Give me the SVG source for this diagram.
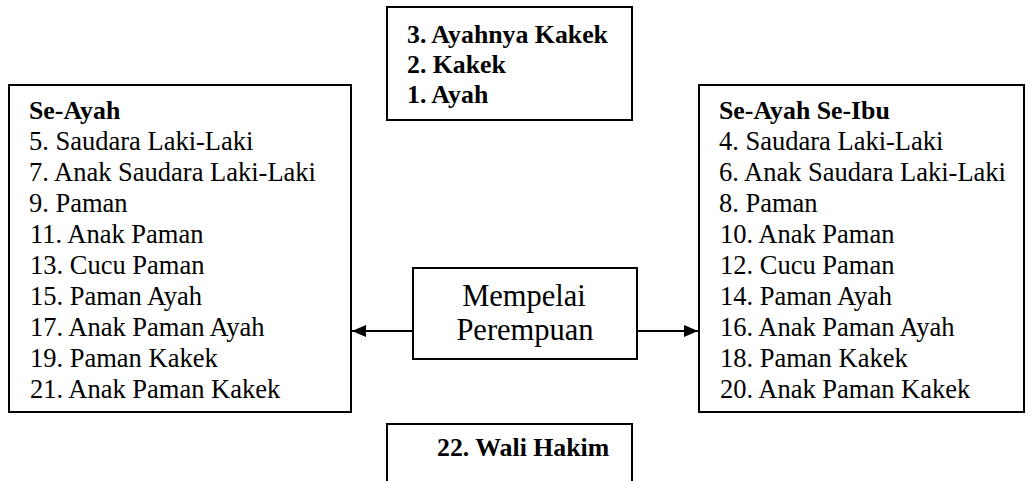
<svg xmlns="http://www.w3.org/2000/svg" width="1033" height="481" viewBox="0 0 1033 481">
<defs>
<style>
.box{fill:#fff;stroke:#000;stroke-width:2}
text{font-family:"Liberation Serif","Times New Roman",serif;fill:#000}
.t{font-size:26.5px}
.b{font-weight:bold;font-size:25.8px}
.c{font-size:30.5px;text-anchor:middle}
.ln{stroke:#000;stroke-width:2;fill:none}
</style>
<marker id="ah" viewBox="0 0 14 12" refX="14" refY="6" markerWidth="14" markerHeight="12" orient="auto" markerUnits="userSpaceOnUse">
<path d="M0,0 L14,6 L0,12 z" fill="#000"/>
</marker>
</defs>
<g id="connectors">
<line class="ln" x1="413" y1="331" x2="352" y2="331" marker-end="url(#ah)"/>
<line class="ln" x1="637" y1="331" x2="698" y2="331" marker-end="url(#ah)"/>
</g>
<g id="top">
<rect class="box" x="387" y="7" width="245" height="113"/>
<text class="b" x="407" y="43">3. Ayahnya Kakek</text>
<text class="b" x="407" y="73">2. Kakek</text>
<text class="b" x="407" y="103">1. Ayah</text>
</g>
<g id="left">
<rect class="box" x="9" y="85" width="342" height="327"/>
<text class="b" x="29" y="119">Se-Ayah</text>
<text class="t" x="29" y="150">5. Saudara Laki-Laki</text>
<text class="t" x="29" y="181">7. Anak Saudara Laki-Laki</text>
<text class="t" x="29" y="212">9. Paman</text>
<text class="t" x="30" y="243">11. Anak Paman</text>
<text class="t" x="30" y="274">13. Cucu Paman</text>
<text class="t" x="30" y="305">15. Paman Ayah</text>
<text class="t" x="30" y="336">17. Anak Paman Ayah</text>
<text class="t" x="30" y="367">19. Paman Kakek</text>
<text class="t" x="30" y="398">21. Anak Paman Kakek</text>
</g>
<g id="right">
<rect class="box" x="699" y="85" width="325" height="327"/>
<text class="b" x="719" y="119">Se-Ayah Se-Ibu</text>
<text class="t" x="719" y="150">4. Saudara Laki-Laki</text>
<text class="t" x="719" y="181">6. Anak Saudara Laki-Laki</text>
<text class="t" x="719" y="212">8. Paman</text>
<text class="t" x="720" y="243">10. Anak Paman</text>
<text class="t" x="720" y="274">12. Cucu Paman</text>
<text class="t" x="720" y="305">14. Paman Ayah</text>
<text class="t" x="720" y="336">16. Anak Paman Ayah</text>
<text class="t" x="720" y="367">18. Paman Kakek</text>
<text class="t" x="720" y="398">20. Anak Paman Kakek</text>
</g>
<g id="center">
<rect class="box" x="413" y="268" width="224" height="91"/>
<text class="c" x="524" y="306">Mempelai</text>
<text class="c" x="525" y="340">Perempuan</text>
</g>
<g id="bottom">
<rect class="box" x="387" y="424" width="245" height="70"/>
<text class="b" x="437" y="456">22. Wali Hakim</text>
</g>
</svg>
